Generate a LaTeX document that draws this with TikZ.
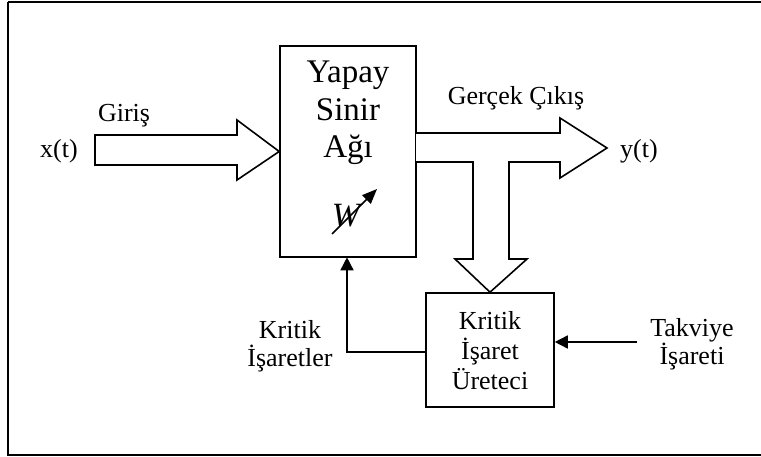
\documentclass[tikz,border=0pt]{standalone}
\usepackage{fontspec}
\setmainfont{Liberation Serif}
\usetikzlibrary{arrows.meta}
\begin{document}
\begin{tikzpicture}[x=1pt,y=-1pt,
  line width=1.6pt,
  lbl/.style={inner sep=0pt,align=center,font=\fontsize{26}{28}\selectfont},
  boxst/.style={draw,line width=1.6pt,inner sep=0pt},
  blockarrow/.style={draw,line width=1.6pt,fill=white,line join=miter},
  conn/.style={draw,line width=1.6pt,-{Triangle[length=13pt,width=13pt]}}]
\useasboundingbox (0,0) rectangle (761,457);
% outer frame
\draw[line width=1.8pt] (8,2) -- (775,2) (8,2) -- (8,455) -- (775,455);
% neural network box
\node[boxst,minimum width=136pt,minimum height=211pt] (nn) at (348,151.5) {};
\node[lbl,font=\fontsize{33}{37.5}\selectfont] (nntext) at (348,113) {Yapay\\Sinir\\Ağı};
\node[lbl,font=\fontsize{34}{34}\itshape] (w) at (346,216) {W};
\coordinate (wa) at (332,234);
\coordinate (wb) at (377,189);
\draw[line width=1.6pt,-{Triangle[length=15pt,width=12pt]}] (wa) -- (wb);
% critic box
\node[boxst,minimum width=128pt,minimum height=114pt] (cr) at (490,350) {};
\node[lbl,font=\fontsize{26}{30}\selectfont] (crtext) at (490,351) {Kritik\\İşaret\\Üreteci};
% input block arrow
\draw[blockarrow] (95,135) -- (237,135) -- (237,120) -- (nn.west) -- (237,180) -- (237,165) -- (95,165) -- cycle;
% output T arrow
\draw[blockarrow] (416,133) -- (560,133) -- (560,118) -- (607,148) -- (560,178) -- (560,162) -- (509,162) -- (509,259) -- (527,259) -- (cr.north) -- (455,259) -- (473,259) -- (473,162) -- (416,162);
% labels
\node[lbl] (x) at (59,151) {x(t)};
\node[lbl] (giris) at (124,116) {Giriş};
\node[lbl] (gercek) at (516,98) {Gerçek Çıkış};
\node[lbl] (y) at (639,151) {y(t)};
\node[lbl] (kis) at (290,346) {Kritik\\İşaretler};
\node[lbl] (tak) at (692,344) {Takviye\\İşareti};
% connectors
\coordinate (tstart) at (637,342);
\draw[conn] (tstart) -- (cr.east |- tstart);
\draw[conn] (cr.west |- 0,352) -- (347,352) -- (347,257.3);
\end{tikzpicture}
\end{document}
